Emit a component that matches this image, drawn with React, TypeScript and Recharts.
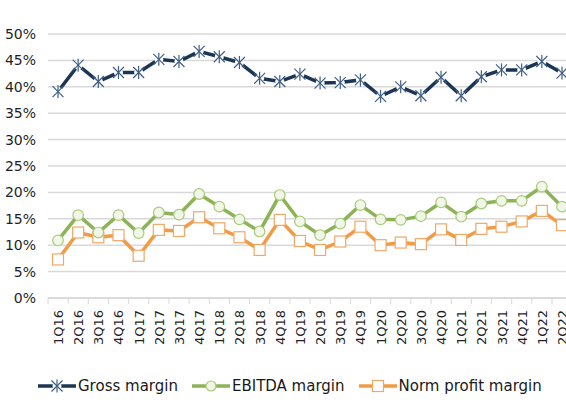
import React from "react";
import { LineChart, Line, XAxis, YAxis, CartesianGrid } from "recharts";

const quarters = [
  "1Q16", "2Q16", "3Q16", "4Q16", "1Q17", "2Q17", "3Q17", "4Q17",
  "1Q18", "2Q18", "3Q18", "4Q18", "1Q19", "2Q19", "3Q19", "4Q19",
  "1Q20", "2Q20", "3Q20", "4Q20", "1Q21", "2Q21", "3Q21", "4Q21",
  "1Q22", "2Q22",
];
const grossMargin = [
  39.1, 44.1, 41.0, 42.7, 42.7, 45.2, 44.8, 46.7, 45.7, 44.6, 41.6, 41.0, 42.4,
  40.7, 40.8, 41.3, 38.2, 40.0, 38.3, 41.8, 38.3, 41.9, 43.2, 43.2, 44.8, 42.6,
];
const ebitdaMargin = [
  10.9, 15.7, 12.4, 15.7, 12.3, 16.2, 15.8, 19.7, 17.3, 14.9, 12.6, 19.5, 14.5,
  11.9, 14.1, 17.6, 14.9, 14.8, 15.5, 18.1, 15.4, 17.9, 18.4, 18.4, 21.1, 17.3,
];
const normProfitMargin = [
  7.3, 12.4, 11.5, 11.9, 8.0, 12.9, 12.7, 15.3, 13.2, 11.5, 9.1, 14.8, 10.8,
  9.1, 10.7, 13.5, 10.0, 10.5, 10.2, 13.0, 11.0, 13.1, 13.5, 14.5, 16.5, 13.8,
];
const yTicks = [0, 5, 10, 15, 20, 25, 30, 35, 40, 45, 50];

const data = quarters.map((q, i) => ({
  q,
  gross: grossMargin[i],
  ebitda: ebitdaMargin[i],
  norm: normProfitMargin[i],
}));

const NAVY = "#1b3554";
const STAR = "#3f5f86";
const GREEN = "#8db357";
const ORANGE = "#f29b45";
const FONT = "'DejaVu Sans', Verdana, sans-serif";

function Star({ cx, cy, halo = true }: { cx: number; cy: number; halo?: boolean }) {
  return (
    <g>
      {halo && <circle cx={cx} cy={cy} r={4.5} fill="#fff" />}
      <line x1={cx - 5.5} y1={cy - 5.5} x2={cx + 5.5} y2={cy + 5.5} stroke={STAR} strokeWidth={1.2} />
      <line x1={cx - 5.5} y1={cy + 5.5} x2={cx + 5.5} y2={cy - 5.5} stroke={STAR} strokeWidth={1.2} />
      <line x1={cx} y1={cy - 6.5} x2={cx} y2={cy + 6.5} stroke={STAR} strokeWidth={1.2} />
    </g>
  );
}

function StarDot(props: any) {
  const { cx, cy, index } = props;
  return <Star key={`s-${index}`} cx={cx} cy={cy} />;
}

function CircleDot(props: any) {
  const { cx, cy, index } = props;
  return (
    <circle key={`c-${index}`} cx={cx} cy={cy} r={5.3} fill="#f1f6e8" stroke="#a9cb7a" strokeWidth={1.2} />
  );
}

function SquareDot(props: any) {
  const { cx, cy, index } = props;
  return (
    <rect key={`r-${index}`} x={cx - 5.5} y={cy - 5.5} width={11} height={11} fill="#fff" stroke="#f0a867" strokeWidth={1.2} />
  );
}

function QuarterTick(props: any) {
  const { x, y, payload, index } = props;
  return (
    <g>
      <line x1={x - 10} y1={y - 8} x2={x - 10} y2={y - 2} stroke="#d9d9d9" strokeWidth={1} />
      {index === quarters.length - 1 && (
        <line x1={x + 10} y1={y - 8} x2={x + 10} y2={y - 2} stroke="#d9d9d9" strokeWidth={1} />
      )}
      <text
        x={0}
        y={0}
        transform={`translate(${x + 5},${y + 4}) rotate(-90)`}
        textAnchor="end"
        fontSize={13}
        fontFamily={FONT}
        fill="#1f1f1f"
      >
        {payload.value}
      </text>
    </g>
  );
}

function LegendItem({ color, label, marker }: { color: string; label: string; marker: React.ReactNode }) {
  return (
    <div style={{ display: "flex", alignItems: "center", marginRight: 14 }}>
      <svg width={38} height={16}>
        <line x1={0} y1={8} x2={38} y2={8} stroke={color} strokeWidth={3.5} />
        {marker}
      </svg>
      <span style={{ fontSize: 15, color: "#1a1a1a", marginLeft: 2 }}>{label}</span>
    </div>
  );
}

export default function App() {
  return (
    <div
      style={{
        position: "fixed",
        top: 0,
        left: 0,
        width: 566,
        height: 400,
        overflow: "hidden",
        background: "#fff",
        fontFamily: FONT,
      }}
    >
      <LineChart width={572} height={400} data={data} margin={{ top: 34, right: 0, left: 0, bottom: 42 }}>
        <CartesianGrid vertical={false} stroke="#d9d9d9" strokeWidth={1.5} />
        <XAxis
          dataKey="q"
          interval={0}
          padding={{ left: 10, right: 10 }}
          height={60}
          tickLine={false}
          axisLine={{ stroke: "#d9d9d9", strokeWidth: 1.5 }}
          tick={<QuarterTick />}
        />
        <YAxis
          domain={[0, 50]}
          ticks={yTicks}
          width={48}
          axisLine={false}
          tickLine={false}
          tickSize={0}
          tickMargin={12}
          tickFormatter={(v) => `${v}%`}
          tick={{ fill: "#1f1f1f", fontSize: 14, fontFamily: FONT }}
        />
        <Line dataKey="norm" stroke={ORANGE} strokeWidth={3.5} dot={SquareDot} isAnimationActive={false} />
        <Line dataKey="ebitda" stroke={GREEN} strokeWidth={3.5} dot={CircleDot} isAnimationActive={false} />
        <Line dataKey="gross" stroke={NAVY} strokeWidth={3.5} dot={StarDot} isAnimationActive={false} />
      </LineChart>
      <div style={{ position: "absolute", top: 377, left: 38, display: "flex" }}>
        <LegendItem color={NAVY} label="Gross margin" marker={<Star cx={19} cy={8} />} />
        <LegendItem
          color={GREEN}
          label="EBITDA margin"
          marker={<circle cx={19} cy={8} r={5} fill="#f1f6e8" stroke="#a9cb7a" strokeWidth={1.2} />}
        />
        <LegendItem
          color={ORANGE}
          label="Norm profit margin"
          marker={<rect x={13.5} y={2.5} width={11} height={11} fill="#fff" stroke="#f0a867" strokeWidth={1.2} />}
        />
      </div>
    </div>
  );
}
